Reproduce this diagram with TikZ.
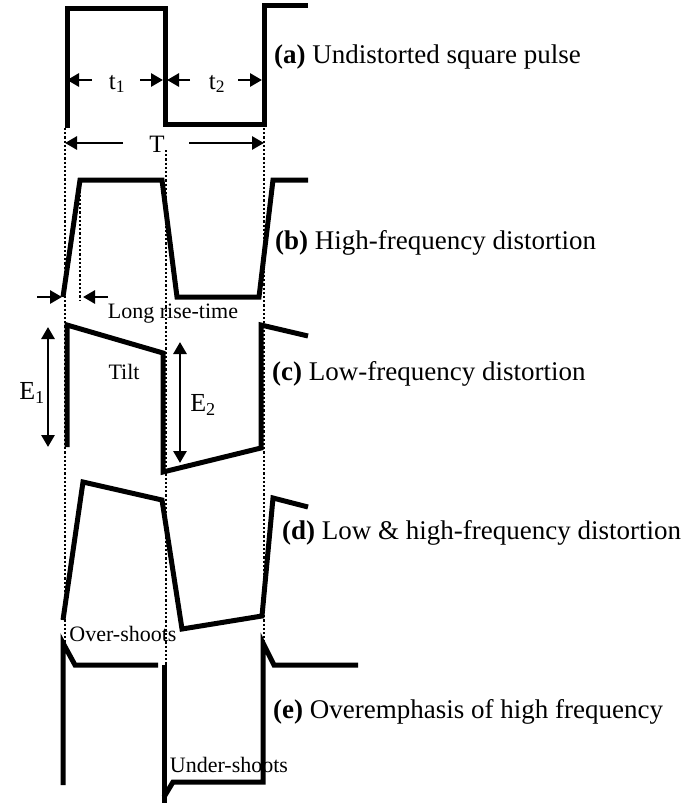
\documentclass[tikz,border=0pt]{standalone}
\usepackage{fontspec}
\setmainfont{Liberation Serif}
\usetikzlibrary{arrows.meta}
\begin{document}
\begin{tikzpicture}[x=1pt,y=-1pt,
  wave/.style={line width=5pt, line join=miter},
  guide/.style={line width=2.2pt, dash pattern=on 2.2pt off 2pt},
  dimarrow/.style={line width=2.8pt, -{Triangle[length=12pt,width=13pt]}},
  dimboth/.style={line width=2.8pt, {Triangle[length=12pt,width=13pt]}-{Triangle[length=12pt,width=13pt]}},
  caption/.style={anchor=west, inner sep=0pt, font=\fontsize{27}{30}\selectfont},
  small/.style={inner sep=0pt, font=\fontsize{22}{24}\selectfont},
  mid/.style={inner sep=0pt, font=\fontsize{25}{27}\selectfont}]
\useasboundingbox (0,0) rectangle (685,803);

% guide lines
\draw[guide] (65,128) -- (65,645);
\draw[guide] (166,150) -- (166,665);
\draw[guide] (264,128) -- (264,645);
\draw[guide] (80,182) -- (80,300);

% (a) undistorted
\draw[wave] (67,128) -- (67,8) -- (165,8) -- (165,124) -- (264,124) -- (264,5) -- (308,5);
% (b) high-frequency distortion
\draw[wave] (63,297) -- (80,180) -- (162,180) -- (177,297) -- (259,297) -- (273,180) -- (308,180);
% (c) low-frequency distortion
\draw[wave] (67,447) -- (67,325) -- (163,353) -- (163,472) -- (261,448) -- (261,325) -- (308,336);
% (d) low & high
\draw[wave] (63,620) -- (83,482) -- (162,500) -- (182,629) -- (262,616) -- (273,498) -- (308,507);
% (e) overemphasis
\draw[wave] (63,785) -- (63,643) -- (75,665) -- (158,665);
\draw[wave] (164,665) -- (164,803);
\draw[wave] (164,797) -- (173,782) -- (263,782) -- (263,643) -- (274,665) -- (358,665);

% dimension coordinates
\coordinate (t1a) at (92,80);  \coordinate (t1l) at (67,80);
\coordinate (t1b) at (140,80); \coordinate (t1r) at (163,80);
\coordinate (t2a) at (190,80); \coordinate (t2l) at (167,80);
\coordinate (t2b) at (238,80); \coordinate (t2r) at (262,80);
\coordinate (Ta) at (123,143); \coordinate (Tl) at (65,143);
\coordinate (Tb) at (189,143); \coordinate (Tr) at (264,143);
\coordinate (ra) at (37,297);  \coordinate (rl) at (62,297);
\coordinate (rb) at (108,297); \coordinate (rr) at (83,297);
\coordinate (e1t) at (48,327); \coordinate (e1b) at (48,447);
\coordinate (e2t) at (180,342); \coordinate (e2b) at (180,463);

\draw[dimarrow] (t1a) -- (t1l);
\draw[dimarrow] (t1b) -- (t1r);
\draw[dimarrow] (t2a) -- (t2l);
\draw[dimarrow] (t2b) -- (t2r);
\draw[dimarrow] (Ta) -- (Tl);
\draw[dimarrow] (Tb) -- (Tr);
\draw[dimarrow] (ra) -- (rl);
\draw[dimarrow] (rb) -- (rr);
\draw[dimboth] (e1t) -- (e1b);
\draw[dimboth] (e2t) -- (e2b);

% small labels
\node[mid] (lt1) at (117,84) {t\textsubscript{1}};
\node[mid] (lt2) at (217,84) {t\textsubscript{2}};
\node[mid] (lT) at (157,144) {T};
\node[small] (lrise) at (173,314) {Long rise-time};
\node[mid,font=\fontsize{26}{28}\selectfont] (lE1) at (32,393) {E\textsubscript{1}};
\node[mid,font=\fontsize{26}{28}\selectfont] (lE2) at (203,405) {E\textsubscript{2}};
\node[small] (ltilt) at (124,372) {Tilt};
\node[small] (lover) at (123,634) {Over-shoots};
\node[small] (lunder) at (229,765) {Under-shoots};

% captions
\node[caption] (ca) at (274,57) {\textbf{(a)} Undistorted square pulse};
\node[caption] (cb) at (275,243) {\textbf{(b)} High-frequency distortion};
\node[caption] (cc) at (272,374) {\textbf{(c)} Low-frequency distortion};
\node[caption] (cd) at (282,533) {\textbf{(d)} Low \& high-frequency distortion};
\node[caption] (ce) at (273,712) {\textbf{(e)} Overemphasis of high frequency};
\end{tikzpicture}
\end{document}
